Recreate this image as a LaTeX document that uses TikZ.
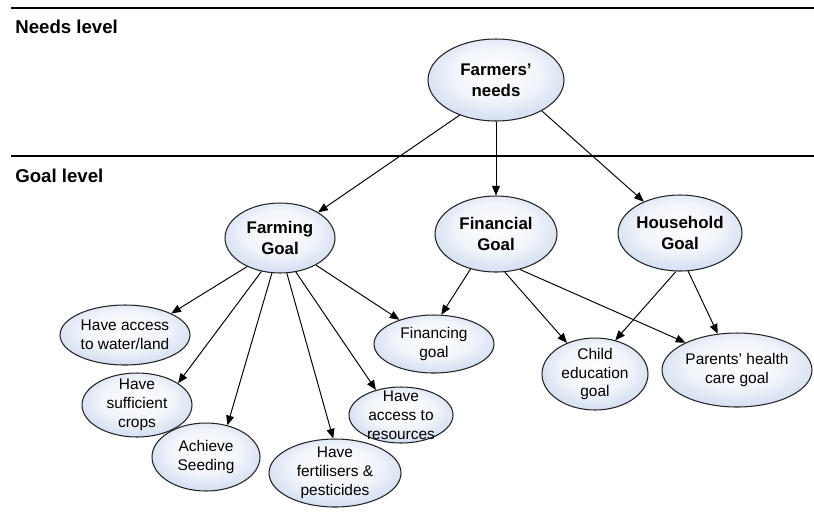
\documentclass[tikz,border=0pt]{standalone}
\usepackage{fontspec}
\setmainfont{Liberation Sans}
\usetikzlibrary{shapes.geometric,arrows.meta}
\definecolor{lb}{RGB}{186,203,232}
\definecolor{edgec}{RGB}{35,35,35}
\pgfdeclareradialshading{ellshade}{\pgfpoint{0bp}{6bp}}{color(0bp)=(white); color(16bp)=(white!80!lb); color(38bp)=(lb); color(50bp)=(lb!92!black)}
\begin{document}
\begin{tikzpicture}[x=0.02cm,y=-0.02cm,
  ell/.style={ellipse,draw=edgec,line width=0.6pt,shading=ellshade,inner sep=-30pt,align=center},
  boldtxt/.style={font=\bfseries\fontsize{9.6}{11.8}\selectfont},
  regtxt/.style={font=\fontsize{8.8}{10.8}\selectfont},
  arr/.style={-{Triangle[length=5.5pt,width=4.5pt]},line width=0.55pt,draw=black},
  leveltxt/.style={font=\bfseries\fontsize{10.6}{12}\selectfont,anchor=base west,inner sep=0pt},
  rule/.style={line width=1.2pt,draw=black}]

\useasboundingbox (0,0) rectangle (814,522);

% level rules
\coordinate (r1a) at (11,8);   \coordinate (r1b) at (814,8);
\coordinate (r2a) at (11,156); \coordinate (r2b) at (814,156);
\draw[rule] (r1a) -- (r1b);
\draw[rule] (r2a) -- (r2b);

\node[leveltxt] (nl) at (15,33) {Needs level};
\node[leveltxt] (gl) at (15,182) {Goal level};

% nodes
\node[ell,boldtxt,minimum width=2.72cm,minimum height=1.64cm] (fn) at (496,80) {Farmers’\\needs};
\node[ell,boldtxt,minimum width=2.2cm,minimum height=1.4cm] (farm) at (280,238) {Farming\\Goal};
\node[ell,boldtxt,minimum width=2.44cm,minimum height=1.52cm] (fin) at (496,234) {Financial\\Goal};
\node[ell,boldtxt,minimum width=2.48cm,minimum height=1.52cm] (hh) at (680,233) {Household\\Goal};

\node[ell,regtxt,minimum width=2.6cm,minimum height=1.2cm] (water) at (125,335) {Have access\\to water/land};
\node[ell,regtxt,minimum width=2.2cm,minimum height=1.28cm] (crops) at (137,405) {Have\\sufficient\\crops};
\node[ell,regtxt,minimum width=2.16cm,minimum height=1.36cm] (seed) at (206,457) {Achieve\\Seeding};
\node[ell,regtxt,minimum width=2.64cm,minimum height=1.36cm] (fert) at (335,473) {Have\\fertilisers \&\\pesticides};
\node[ell,regtxt,minimum width=2.08cm,minimum height=1.12cm] (res) at (401,415) {Have\\access to\\resources};
\node[ell,regtxt,minimum width=2.4cm,minimum height=1.16cm] (fing) at (434,344) {Financing\\goal};
\node[ell,regtxt,minimum width=2.12cm,minimum height=1.44cm] (child) at (595,374) {Child\\education\\goal};
\node[ell,regtxt,minimum width=3.0cm,minimum height=1.48cm] (parents) at (737,370) {Parents’ health\\care goal};

% connectors
\draw[arr] (fn.224) -- (farm.34);
\draw[arr] (fn.270) -- (fin.90);
\draw[arr] (fn.-34) -- (hh.139);

\draw[arr] (farm.221) -- (water.25);
\draw[arr] (farm.241) -- (crops.28);
\draw[arr] (farm.257) -- (seed.56);
\draw[arr] (farm.-79) -- (fert.93);
\draw[arr] (farm.-65) -- (res.135);
\draw[arr] (farm.-37) -- (fing.145);

\draw[arr] (fin.234) -- (fing.76);
\draw[arr] (fin.-77) -- (child.132);
\draw[arr] (fin.-56) -- (parents.152);

\draw[arr] (hh.264) -- (child.59);
\draw[arr] (hh.-78) -- (parents.118);
\end{tikzpicture}
\end{document}
